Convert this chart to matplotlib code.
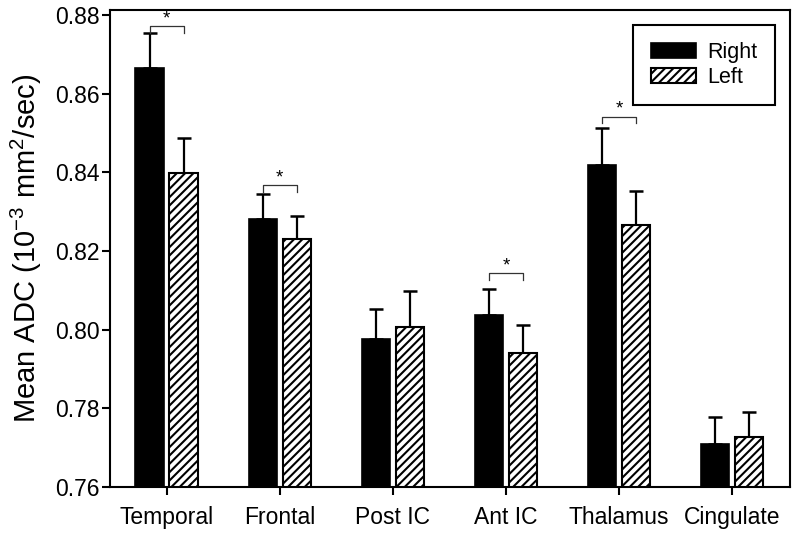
import matplotlib
matplotlib.use("Agg")
import matplotlib.pyplot as plt
import numpy as np

plt.rcParams['font.family'] = ['Liberation Sans', 'DejaVu Sans']
plt.rcParams['mathtext.fontset'] = 'custom'
plt.rcParams['mathtext.rm'] = 'Liberation Sans'
plt.rcParams['mathtext.it'] = 'Liberation Sans:italic'
plt.rcParams['hatch.linewidth'] = 1.5

categories = ["Temporal", "Frontal", "Post IC", "Ant IC", "Thalamus", "Cingulate"]
right_means = [0.8665, 0.8281, 0.7977, 0.8037, 0.8420, 0.7709]
right_err = [0.0090, 0.0063, 0.0076, 0.0067, 0.0092, 0.0070]
left_means = [0.8398, 0.8230, 0.8008, 0.7942, 0.8266, 0.7727]
left_err = [0.0089, 0.0059, 0.0090, 0.0070, 0.0088, 0.0064]
sig_groups = [0, 1, 3, 4]
sig_heights = [0.8772, 0.8368, 0.8143, 0.8542]
yticks = [0.76, 0.78, 0.80, 0.82, 0.84, 0.86, 0.88]

fig = plt.figure(figsize=(8, 5.35), dpi=100)
ax = fig.add_axes([0.1375, 0.0897, 0.85, 0.8916])

x = np.arange(len(categories))
w = 0.25
off = 0.15
zeros = [0] * len(categories)

ax.bar(x - off, right_means, w, color='black', edgecolor='black', linewidth=1.2,
       label='Right', zorder=2)
ax.bar(x + off, left_means, w, color='white', edgecolor='black', linewidth=1.5,
       hatch='////', label='Left', zorder=2)
ax.errorbar(x - off, right_means, yerr=[zeros, right_err], fmt='none', ecolor='black',
            elinewidth=1.6, capsize=4.7, capthick=1.8, zorder=1)
ax.errorbar(x + off, left_means, yerr=[zeros, left_err], fmt='none', ecolor='black',
            elinewidth=1.6, capsize=4.7, capthick=1.8, zorder=1)

drop = 0.0017
for g, h in zip(sig_groups, sig_heights):
    ax.plot([g - off, g - off, g + off, g + off], [h - drop, h, h, h - drop],
            color='#333333', linewidth=0.9, zorder=5)
    ax.text(g, h + 0.0019, '*', ha='center', va='center', fontsize=13.5, zorder=6)

ax.set_xlim(-0.5, 5.51)
ax.set_ylim(0.76, 0.8813)
ax.set_yticks(yticks)
ax.set_yticklabels([f"{t:.2f}" for t in yticks])
ax.set_xticks(x)
ax.set_xticklabels(categories)
ax.tick_params(axis='both', direction='out', length=5.5, width=1.5, labelsize=16.5)
ax.tick_params(axis='y', pad=2)
ax.tick_params(axis='x', pad=8)
for s in ax.spines.values():
    s.set_linewidth(1.5)

ax.set_ylabel(r"Mean ADC (10$^{-3}$ mm$^{2}$/sec)", fontsize=21, labelpad=8)

leg = ax.legend(loc='upper right', bbox_to_anchor=(0.978, 0.9686), borderaxespad=0,
                fontsize=15.5, frameon=True, fancybox=False, edgecolor='black',
                framealpha=1, handlelength=2.1, handleheight=0.72, borderpad=0.8,
                labelspacing=0.17, handletextpad=0.55)
leg.get_frame().set_linewidth(1.5)
leg.set_zorder(4)

fig.savefig("out.png", dpi=100)
